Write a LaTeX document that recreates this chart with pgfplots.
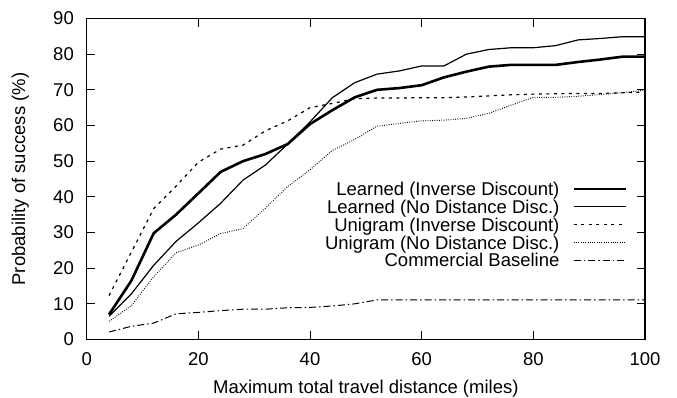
\documentclass[border=0pt]{standalone}
\usepackage{fontspec}
\setmainfont{Liberation Sans}
\usepackage{pgfplots}
\pgfplotsset{compat=1.18}
\begin{document}
\fontsize{18.5}{18.5}\selectfont
\begin{tikzpicture}[x=1pt,y=1pt]
\useasboundingbox (0,0) rectangle (677,397);
\begin{axis}[
  at={(86.7pt,57.5pt)}, anchor=south west,
  scale only axis, width=558.3pt, height=321pt,
  xmin=0, xmax=100, ymin=0, ymax=90,
  xtick={0,20,...,100}, ytick={0,10,...,90},
  tick align=inside, major tick length=8.3pt,
  axis line style={line width=1.4pt},
  every tick/.style={line width=1pt, black},
  /pgf/number format/assume math mode=true,
  xticklabel style={inner sep=0pt, anchor=base, yshift=-25.5pt},
  yticklabel style={inner sep=0pt, anchor=east, xshift=-12.7pt},
  xlabel={Maximum total travel distance (miles)},
  ylabel={Probability of success (\%)},
  xlabel style={at={(axis description cs:0.5,-0.1676)}, anchor=base, inner sep=0pt},
  ylabel style={at={(axis description cs:-0.1105,0.5)}, anchor=base, inner sep=0pt},
  legend cell align=right,
  legend plot pos=right,
  legend style={draw=none, fill=none, inner sep=0pt, outer sep=0pt,
    at={(0.9678,0.4964)}, anchor=north east,
    row sep=0pt, column sep=13pt,
    nodes={inner sep=0pt, text height=15.5pt, text depth=2.3pt}},
  legend image code/.code={\draw[#1] (0pt,0pt) -- (52pt,0pt);},
]
\addplot[black, line width=2.6pt] coordinates {
(4,7) (8,16.5) (12,29.8) (16,35) (20,41) (24,47) (28,50) (32,52) (36,54.8)
(40,60.4) (44,64.3) (48,67.9) (52,70) (56,70.5) (60,71.3) (64,73.5) (68,75.1)
(72,76.5) (76,77) (80,77) (84,77) (88,77.8) (92,78.5) (96,79.3) (100,79.3)};
\addlegendentry{Learned (Inverse Discount)}
\addplot[black, line width=1.2pt] coordinates {
(4,6.5) (8,12.8) (12,20.8) (16,27.5) (20,32.7) (24,38.2) (28,44.7) (32,48.9) (36,54.8)
(40,61) (44,67.8) (48,72) (52,74.4) (56,75.3) (60,76.7) (64,76.7) (68,80)
(72,81.3) (76,81.8) (80,81.8) (84,82.4) (88,84) (92,84.4) (96,84.9) (100,84.9)};
\addlegendentry{Learned (No Distance Disc.)}
\addplot[black, line width=1.2pt, dash pattern=on 3pt off 4.5pt] coordinates {
(4,12.3) (8,24.5) (12,36.7) (16,43) (20,49.7) (24,53.4) (28,54.5) (32,58.5) (36,61.3)
(40,65) (44,66.2) (48,67.5) (52,67.7) (56,67.7) (60,67.8) (64,67.8) (68,68)
(72,68.3) (76,68.6) (80,68.8) (84,68.9) (88,69) (92,69) (96,69.2) (100,69.4)};
\addlegendentry{Unigram (Inverse Discount)}
\addplot[black, line width=1pt, dash pattern=on 0.8pt off 1.5pt] coordinates {
(4,5.1) (8,9.5) (12,17.6) (16,24.3) (20,26.5) (24,29.7) (28,31.1) (32,36.8) (36,42.9)
(40,47.6) (44,53) (48,56.1) (52,59.8) (56,60.6) (60,61.3) (64,61.5) (68,62)
(72,63.4) (76,65.7) (80,67.9) (84,67.9) (88,68.2) (92,68.7) (96,69.2) (100,69.9)};
\addlegendentry{Unigram (No Distance Disc.)}
\addplot[black, line width=1pt, dash pattern=on 7pt off 3pt on 1.5pt off 3pt] coordinates {
(4,2.1) (8,3.7) (12,4.6) (16,7.2) (20,7.6) (24,8.1) (28,8.5) (32,8.5) (36,8.9)
(40,9.0) (44,9.4) (48,10.0) (52,11.1) (56,11.1) (60,11.1) (64,11.1) (68,11.1)
(72,11.1) (76,11.1) (80,11.1) (84,11.1) (88,11.1) (92,11.1) (96,11.1) (100,11.1)};
\addlegendentry{Commercial Baseline}
\end{axis}
\end{tikzpicture}
\end{document}
